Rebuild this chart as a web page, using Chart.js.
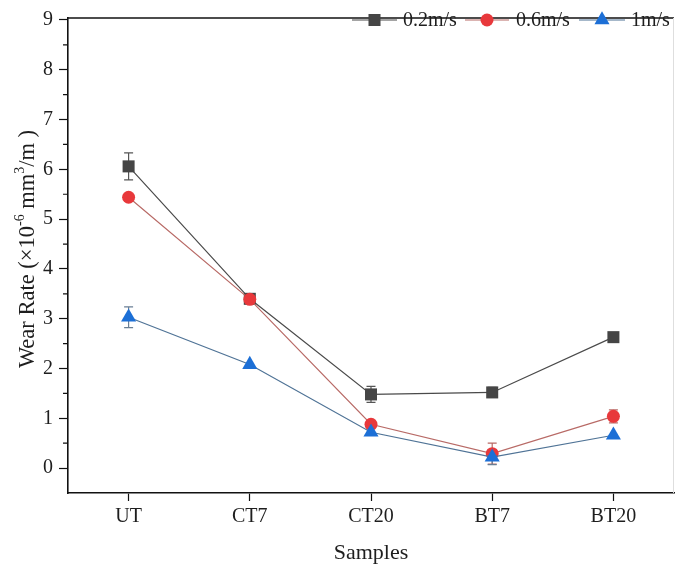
<!DOCTYPE html>
<html><head><meta charset="utf-8">
<style>html,body{margin:0;padding:0;background:#fff;overflow:hidden}#wrap{width:675px;height:571px;position:relative}</style>
<script src="https://cdn.jsdelivr.net/npm/chart.js@4/dist/chart.umd.min.js"></script>
</head><body><div id="wrap"><canvas id="c" width="675" height="571"></canvas></div>
<script>
const categories = ['UT','CT7','CT20','BT7','BT20'];
const seriesNames = ['0.2m/s','0.6m/s','1m/s'];
const wear02 = [6.06, 3.40, 1.48, 1.52, 2.63];
const err02  = [0.27, 0, 0.16, 0.10, 0];
const wear06 = [5.44, 3.39, 0.88, 0.29, 1.04];
const err06  = [0, 0, 0, 0.21, 0.13];
const wear1  = [3.03, 2.08, 0.72, 0.22, 0.66];
const err1   = [0.21, 0, 0, 0.15, 0];
const yTicks = [0,1,2,3,4,5,6,7,8,9];
const yMinorTicks = [0.5,1.5,2.5,3.5,4.5,5.5,6.5,7.5,8.5];

const FONT = "'Liberation Serif', 'Times New Roman', serif";
const TXT = '#1e1e1e';
const styles = [
  {line:'#4a4a4a', fill:'#454545', pt:'rect', r:8.5, err:'#555'},
  {line:'#b86a66', fill:'#e8383b', pt:'circle', r:6.5, err:'#b86a66'},
  {line:'#4f7396', fill:'#1c6fd6', pt:'triangle', r:8.7, err:'#6a7f95'}
];
const values = [wear02, wear06, wear1];
const errors = [err02, err06, err1];

function mk(i){
  return {
    label: seriesNames[i],
    data: values[i].map((v,k)=>({x:k, y:v})),
    borderColor: styles[i].line, borderWidth: 1.2,
    backgroundColor: styles[i].fill, pointBackgroundColor: styles[i].fill,
    pointBorderColor: styles[i].fill, pointBorderWidth: 0,
    pointStyle: styles[i].pt, pointRadius: styles[i].r, pointHoverRadius: styles[i].r,
    tension: 0, order: 3 - i, clip: false
  };
}

function marker(ctx, style, x, y){
  const s = styles[style];
  ctx.save();
  ctx.fillStyle = s.fill;
  ctx.beginPath();
  if (s.pt === 'rect') { const h = s.r*Math.SQRT1_2; ctx.rect(x-h, y-h, 2*h, 2*h); }
  else if (s.pt === 'circle') { ctx.arc(x, y, s.r, 0, Math.PI*2); }
  else { const r = s.r; ctx.moveTo(x, y-r); ctx.lineTo(x+r*Math.sin(Math.PI*2/3), y+r/2); ctx.lineTo(x-r*Math.sin(Math.PI*2/3), y+r/2); ctx.closePath(); }
  ctx.fill();
  ctx.restore();
}

// rich text pieces for the y title: [text, isSuperscript]
const yTitleParts = [['Wear Rate (\u00d710', false], ['-6', true], [' mm', false], ['3', true], ['/m )', false]];

function drawRich(ctx, parts, size, cx, cy){
  const widths = parts.map(([t, sup]) => { ctx.font = `${sup ? size*0.62 : size}px ${FONT}`; return ctx.measureText(t).width; });
  const total = widths.reduce((a,b)=>a+b, 0);
  let x = cx - total/2;
  ctx.textAlign = 'left'; ctx.textBaseline = 'alphabetic';
  parts.forEach(([t, sup], i) => {
    ctx.font = `${sup ? size*0.62 : size}px ${FONT}`;
    ctx.fillText(t, x, cy + size*0.35 - (sup ? size*0.45 : 0));
    x += widths[i];
  });
  return total;
}

const deco = {
  id: 'deco',
  beforeDatasetsDraw(chart){
    const {ctx, scales:{x, y}} = chart;
    ctx.save();
    ctx.lineWidth = 1.2;
    errors.forEach((errs, i)=>{
      ctx.strokeStyle = styles[i].err;
      errs.forEach((e, k)=>{
        if (!e) return;
        const px = x.getPixelForValue(k);
        const t = y.getPixelForValue(values[i][k] + e);
        const b = y.getPixelForValue(values[i][k] - e);
        ctx.beginPath();
        ctx.moveTo(px, t); ctx.lineTo(px, b);
        ctx.moveTo(px-4.5, t); ctx.lineTo(px+4.5, t);
        ctx.moveTo(px-4.5, b); ctx.lineTo(px+4.5, b);
        ctx.stroke();
      });
    });
    ctx.restore();
  },
  afterDraw(chart){
    const {ctx, chartArea:a, scales:{x, y}} = chart;
    ctx.save();
    // top frame line
    ctx.strokeStyle = '#111'; ctx.lineWidth = 1.6;
    ctx.beginPath(); ctx.moveTo(a.left, a.top); ctx.lineTo(a.right, a.top); ctx.stroke();
    // faint right frame (cut off at the image edge)
    ctx.strokeStyle = '#dedede'; ctx.lineWidth = 1;
    ctx.beginPath(); ctx.moveTo(a.right - 0.5, a.top); ctx.lineTo(a.right - 0.5, a.bottom); ctx.stroke();
    // minor ticks
    ctx.strokeStyle = '#111'; ctx.lineWidth = 1.2;
    ctx.beginPath();
    yMinorTicks.forEach(v=>{ const py = y.getPixelForValue(v); ctx.moveTo(a.left-5, py); ctx.lineTo(a.left, py); });
    ctx.stroke();
    // titles
    ctx.fillStyle = TXT;
    ctx.font = `22px ${FONT}`;
    ctx.textAlign = 'center'; ctx.textBaseline = 'middle';
    ctx.fillText('Samples', x.getPixelForValue(2), 553);
    ctx.save();
    ctx.translate(26, 249);
    ctx.rotate(-Math.PI/2);
    drawRich(ctx, yTitleParts, 22.5, 0, 0);
    ctx.restore();
    // legend
    const items = [
      {x0:352, x1:397, tx:403},
      {x0:465, x1:509, tx:516},
      {x0:579, x1:625, tx:631}
    ];
    const ly = 20;
    ctx.font = `20px ${FONT}`;
    ctx.textAlign = 'left'; ctx.textBaseline = 'middle';
    items.forEach((it, i)=>{
      ctx.strokeStyle = styles[i].line; ctx.lineWidth = 1.2;
      ctx.beginPath(); ctx.moveTo(it.x0, ly); ctx.lineTo(it.x1, ly); ctx.stroke();
      marker(ctx, i, (it.x0+it.x1)/2, ly);
      ctx.fillStyle = TXT;
      ctx.fillText(seriesNames[i], it.tx, ly+1);
    });
    ctx.restore();
  }
};

new Chart(document.getElementById('c'), {
  type: 'line',
  data: { datasets: [mk(0), mk(1), mk(2)] },
  plugins: [deco],
  options: {
    responsive: false, animation: false, devicePixelRatio: 1,
    layout: { autoPadding: false, padding: { top: 14, right: 1, left: 0, bottom: 0 } },
    plugins: { legend: { display: false }, tooltip: { enabled: false } },
    scales: {
      x: {
        type: 'linear', min: -0.5, max: 4.5,
        afterBuildTicks: s => { s.ticks = categories.map((c,i)=>({value:i})); },
        afterFit: s => { s.height = 78; },
        ticks: { callback: v => categories[v] ?? '', font: { family: FONT, size: 20 }, color: TXT, padding: 4, maxRotation: 0, autoSkip: false },
        grid: { drawOnChartArea: false, drawTicks: true, tickLength: 8, tickColor: '#111', tickWidth: 1.2 },
        border: { color: '#111', width: 1.6 }
      },
      y: {
        type: 'linear', min: -0.5, max: 9.04,
        afterBuildTicks: s => { s.ticks = yTicks.map(v=>({value:v})); },
        afterFit: s => { s.width = 68; },
        ticks: { font: { family: FONT, size: 20 }, color: TXT, padding: 6 },
        grid: { drawOnChartArea: false, drawTicks: true, tickLength: 9, tickColor: '#111', tickWidth: 1.2 },
        border: { color: '#111', width: 1.6 }
      }
    }
  }
});
</script>
</body></html>
